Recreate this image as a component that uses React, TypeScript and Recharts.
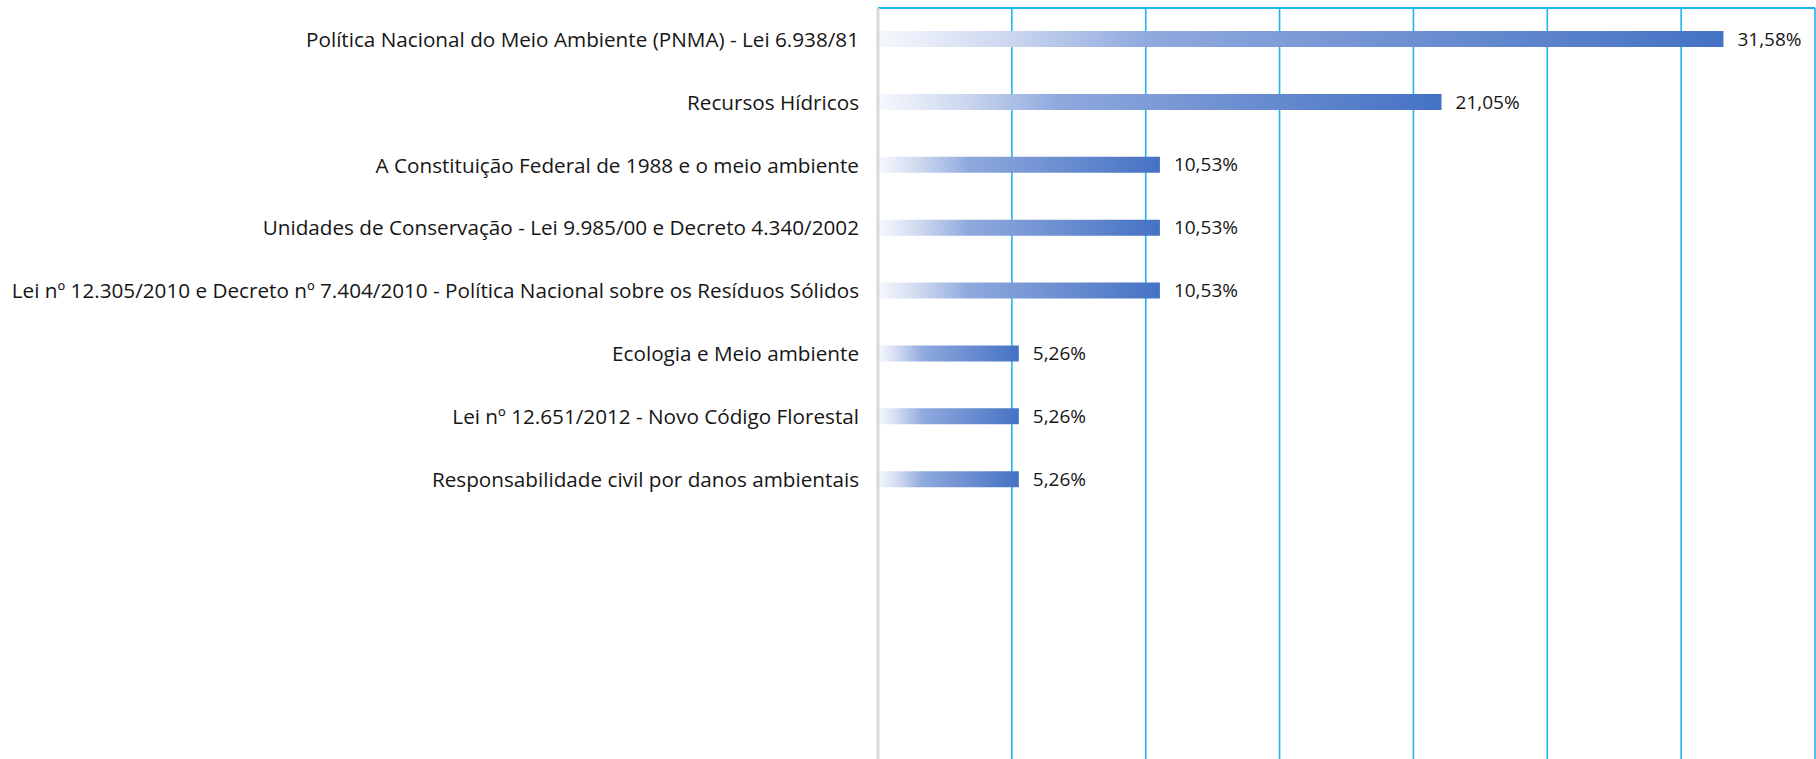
import { Bar, BarChart, CartesianGrid, LabelList, XAxis, YAxis } from "recharts";

const topics = [
  "Política Nacional do Meio Ambiente (PNMA) - Lei 6.938/81",
  "Recursos Hídricos",
  "A Constituição Federal de 1988 e o meio ambiente",
  "Unidades de Conservação - Lei 9.985/00 e Decreto 4.340/2002",
  "Lei nº 12.305/2010 e Decreto nº 7.404/2010 - Política Nacional sobre os Resíduos Sólidos",
  "Ecologia e Meio ambiente",
  "Lei nº 12.651/2012 - Novo Código Florestal",
  "Responsabilidade civil por danos ambientais",
];
const shares = [31.58, 21.05, 10.53, 10.53, 10.53, 5.26, 5.26, 5.26];
const xTicks = [0, 5, 10, 15, 20, 25, 30, 35];

const data = topics.map((topic, i) => ({ topic, share: shares[i] }));

const font = "'Open Sans', sans-serif";

// x ticks only drive the vertical grid, no labels shown
const NoTick = () => <g />;

export default function App() {
  return (
    <div style={{ position: "absolute", left: 0, top: 0 }}>
      <BarChart
        width={1816}
        height={759}
        data={data}
        layout="vertical"
        margin={{ top: 0, right: 1, bottom: 0, left: 0 }}
        barSize={16}
      >
        <defs>
          <linearGradient id="barFill" x1="0" y1="0" x2="1" y2="0">
            <stop offset="0%" stopColor="#f6f8fd" />
            <stop offset="15%" stopColor="#cdd8ef" />
            <stop offset="32%" stopColor="#8fa9de" />
            <stop offset="60%" stopColor="#7192d2" />
            <stop offset="100%" stopColor="#4472c4" />
          </linearGradient>
        </defs>
        <CartesianGrid
          horizontal={false}
          vertical
          stroke="#1fb5ee"
          strokeWidth={1.6}
        />
        <XAxis
          type="number"
          orientation="top"
          domain={[0, 35]}
          ticks={xTicks}
          interval={0}
          height={8}
          tick={NoTick}
          tickLine={false}
          axisLine={{ stroke: "#1fb5ee", strokeWidth: 2 }}
        />
        <YAxis
          type="category"
          dataKey="topic"
          width={878}
          padding={{ top: 0, bottom: 248 }}
          tickLine={false}
          tickMargin={13}
          axisLine={{ stroke: "#d9d9d9", strokeWidth: 3 }}
          tick={{ fill: "#161616", fontSize: 20.7, fontFamily: font }}
        />
        <Bar dataKey="share" fill="url(#barFill)" isAnimationActive={false}>
          <LabelList
            dataKey="share"
            position="right"
            offset={14}
            formatter={(v: number) => v.toFixed(2).replace(".", ",") + "%"}
            style={{ fill: "#161616", fontSize: 19, fontFamily: font }}
          />
        </Bar>
      </BarChart>
    </div>
  );
}
